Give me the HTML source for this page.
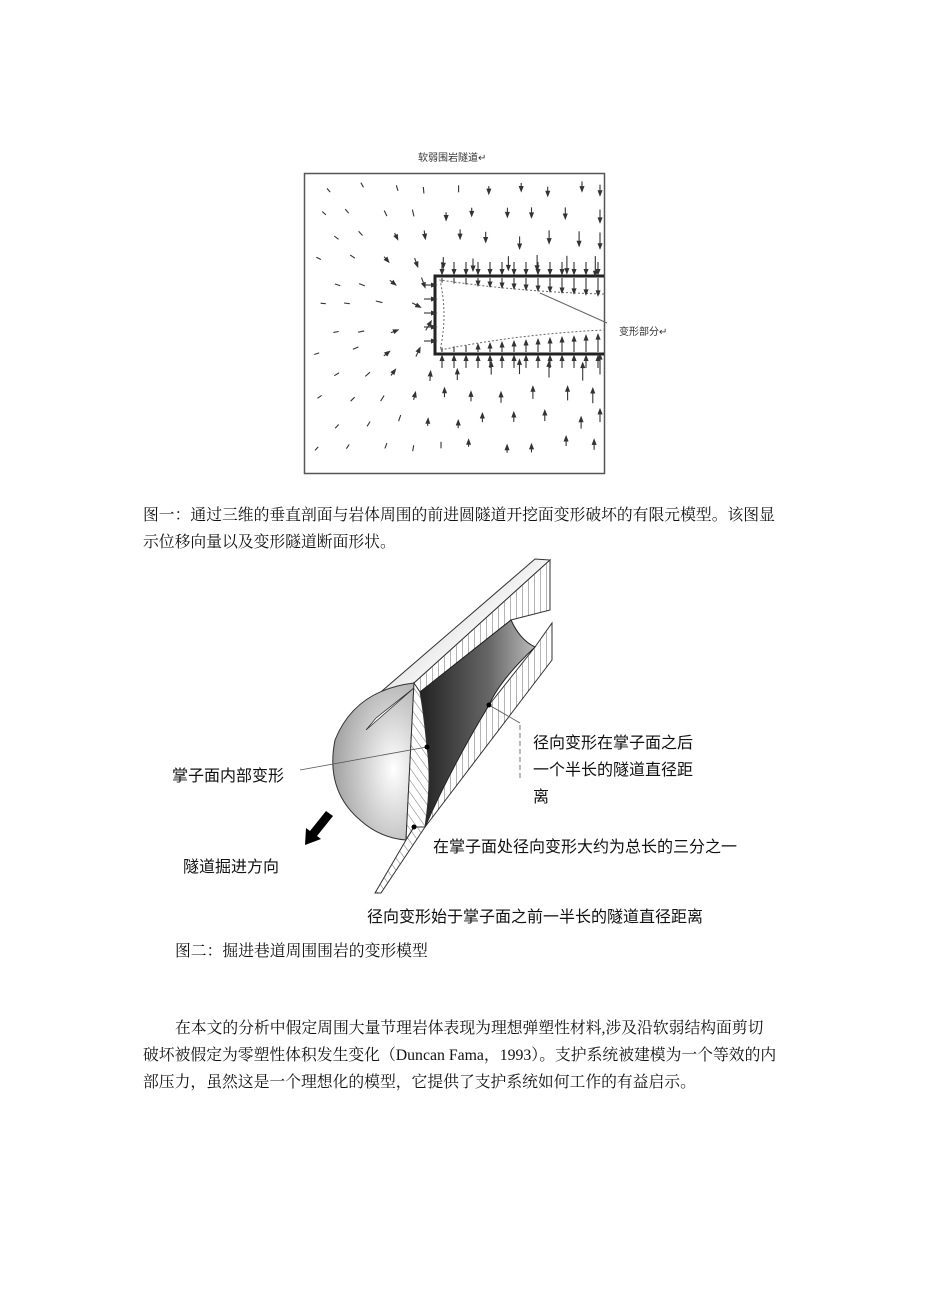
<!DOCTYPE html>
<html><head><meta charset="utf-8">
<style>
html,body{margin:0;padding:0;background:#fff;}
body{width:926px;height:1309px;position:relative;overflow:hidden;}
.t{position:absolute;white-space:nowrap;color:#111;}
.s{font-family:"Liberation Serif","Noto Serif CJK SC",serif;font-size:15.8px;}
.a{font-family:"Liberation Sans","Noto Sans CJK SC",sans-serif;font-size:16px;}
.sm{font-family:"Liberation Sans","Noto Sans CJK SC",sans-serif;font-size:10px;color:#333;}
svg{position:absolute;left:0;top:0;}
</style></head><body>
<svg id="f1" width="926" height="1309" viewBox="0 0 926 1309">
<rect x="304.5" y="173.5" width="300" height="300" fill="none" stroke="#555" stroke-width="1.5"/>
<path d="M604 276 H435 V354 H604" fill="none" stroke="#222" stroke-width="3"/>
<path d="M604 294 Q520 292 440 280 Q448 316 440 350 Q520 334 604 330" fill="none" stroke="#666" stroke-width="1" stroke-dasharray="2,2"/>
<line x1="540" y1="293" x2="607" y2="323" stroke="#666" stroke-width="1"/>
<g id="arr" stroke="#333" stroke-width="1.1" fill="#333"></g>
</svg>
<div class="t sm" style="left:418px;top:149px;">软弱围岩隧道↵</div>
<div class="t sm" style="left:619px;top:323px;">变形部分↵</div>

<div class="t s" style="left:143px;top:502px;">图一：通过三维的垂直剖面与岩体周围的前进圆隧道开挖面变形破坏的有限元模型。该图显</div>
<div class="t s" style="left:143px;top:529px;">示位移向量以及变形隧道断面形状。</div>

<svg width="926" height="1309" viewBox="0 0 926 1309">
<defs>
<radialGradient id="hg" cx="0.75" cy="0.55" r="0.8"><stop offset="0" stop-color="#fff"/><stop offset="1" stop-color="#9a9a9a"/></radialGradient>
<linearGradient id="dg" x1="0" y1="0" x2="1" y2="0"><stop offset="0" stop-color="#222"/><stop offset="0.6" stop-color="#666"/><stop offset="1" stop-color="#bbb"/></linearGradient>
<linearGradient id="tg" x1="0" y1="0" x2="1" y2="1"><stop offset="0" stop-color="#aaa"/><stop offset="0.5" stop-color="#f4f4f4"/><stop offset="1" stop-color="#999"/></linearGradient>
<pattern id="vh" width="6" height="6" patternUnits="userSpaceOnUse"><rect width="6" height="6" fill="#fff"/><line x1="0" y1="0" x2="0" y2="6" stroke="#444" stroke-width="0.8"/></pattern>
<pattern id="dh" width="7" height="7" patternUnits="userSpaceOnUse" patternTransform="rotate(-35)"><rect width="7" height="7" fill="#fff"/><line x1="0" y1="0" x2="0" y2="7" stroke="#555" stroke-width="0.8"/></pattern>
</defs>
<polygon points="535,559 550,560 414,683 380,700 366,730 375,697" fill="url(#tg)" stroke="#333" stroke-width="1"/>
<polygon points="550,560 550,610 511,620 420,692 414,693 414,683" fill="url(#vh)" stroke="#333" stroke-width="1"/>
<polygon points="552,623 552,660 425,827 415,827 425,812 489,705 535,647" fill="url(#vh)" stroke="#333" stroke-width="1"/>
<path d="M420,692 L511,620 Q520,640 535,647 Q500,680 489,705 Q450,770 425,827 Q432,780 427,747 Q424,715 420,692 Z" fill="url(#dg)" stroke="#222" stroke-width="1"/>
<path d="M414,683 Q355,690 335,740 Q325,790 360,820 Q380,838 406,840 L414,683 Z" fill="url(#hg)" stroke="#333" stroke-width="1"/>
<path d="M414,683 L420,692 Q424,715 427,747 Q432,780 425,827 L414,827 L406,840 Z" fill="url(#dh)" stroke="#333" stroke-width="1"/>
<polygon points="406,840 414,827 425,827 381,893 375,893" fill="url(#dh)" stroke="#333" stroke-width="1"/>
<polygon points="366,730 414,688 376,718" fill="#fff" stroke="#333" stroke-width="0.8"/>
<polygon points="305,845 306,828 310,831 326,811 333,816 317,836 321,839" fill="#000"/>
<line x1="427" y1="747" x2="300" y2="770" stroke="#555" stroke-width="0.8"/>
<circle cx="427" cy="747" r="2.5" fill="#000"/>
<line x1="489" y1="705" x2="520" y2="723" stroke="#555" stroke-width="0.8"/>
<line x1="520" y1="725" x2="520" y2="780" stroke="#555" stroke-width="0.8" stroke-dasharray="5,3"/>
<circle cx="489" cy="705" r="2.5" fill="#000"/>
<circle cx="414" cy="827" r="2.5" fill="#000"/>
</svg>
<div class="t a" style="left:172px;top:762px;">掌子面内部变形</div>
<div class="t a" style="left:183px;top:853px;">隧道掘进方向</div>
<div class="t a" style="left:533px;top:729px;">径向变形在掌子面之后</div>
<div class="t a" style="left:533px;top:756px;">一个半长的隧道直径距</div>
<div class="t a" style="left:533px;top:783px;">离</div>
<div class="t a" style="left:433px;top:833px;">在掌子面处径向变形大约为总长的三分之一</div>
<div class="t a" style="left:367px;top:903px;">径向变形始于掌子面之前一半长的隧道直径距离</div>

<div class="t s" style="left:175px;top:938px;">图二：掘进巷道周围围岩的变形模型</div>
<div class="t s" style="left:175px;top:1015px;">在本文的分析中假定周围大量节理岩体表现为理想弹塑性材料,涉及沿软弱结构面剪切</div>
<div class="t s" style="left:143px;top:1042px;">破坏被假定为零塑性体积发生变化（Duncan Fama，1993）。支护系统被建模为一个等效的内</div>
<div class="t s" style="left:143px;top:1069px;">部压力，虽然这是一个理想化的模型，它提供了支护系统如何工作的有益启示。</div>

<script>
(function(){
var g=document.getElementById('arr'),h='';
var seed=7;function rnd(){seed=(seed*16807)%2147483647;return seed/2147483647;}
function arrow(x,y,dx,dy){
 var L=Math.sqrt(dx*dx+dy*dy); if(L<0.5)return;
 var ux=dx/L,uy=dy/L,ex=x+dx,ey=y+dy,hs=Math.min(2.5,L*0.35);
 h+='<line x1="'+x.toFixed(1)+'" y1="'+y.toFixed(1)+'" x2="'+ex.toFixed(1)+'" y2="'+ey.toFixed(1)+'"/>';
 if(L>7)h+='<polygon points="'+ex.toFixed(1)+','+ey.toFixed(1)+' '+(ex-ux*hs*1.8-uy*hs*0.7).toFixed(1)+','+(ey-uy*hs*1.8+ux*hs*0.7).toFixed(1)+' '+(ex-ux*hs*1.8+uy*hs*0.7).toFixed(1)+','+(ey-uy*hs*1.8-ux*hs*0.7).toFixed(1)+'"/>';
}
for(var y=185;y<468;y+=24){
 for(var x=318;x<604;x+=31){
  var xx=x+((y/24|0)%2)*14+(rnd()-0.5)*10, yy=y+(rnd()-0.5)*8; if(xx>600)xx=600;
  if(xx>426&&yy>262&&yy<368)continue;
  var px=Math.max(435,Math.min(604,xx)),py=Math.max(276,Math.min(354,yy));
  var dx=px-xx,dy=py-yy,d=Math.sqrt(dx*dx+dy*dy)||1;
  var f=(xx-304)/300;
  var L=4+(16*f*f+5)*Math.exp(-d/80);
  if(xx<435){ var ang=Math.atan2(315-yy,435-xx); dx=Math.cos(ang);dy=Math.sin(ang);}
  else{dx=dx/d;dy=dy/d;}
  arrow(xx,yy,dx*L,dy*L);
 }
}
for(var x=442;x<604;x+=12){
 var f=(x-435)/170, L=4+14*f;
 arrow(x,262,0,12);arrow(x,278,0,L);
 arrow(x,368,0,-12);arrow(x,352,0,-L);
}
for(var y=285;y<350;y+=14){arrow(424,y,12,0);}
g.innerHTML=h;
})();
</script>
</body></html>
